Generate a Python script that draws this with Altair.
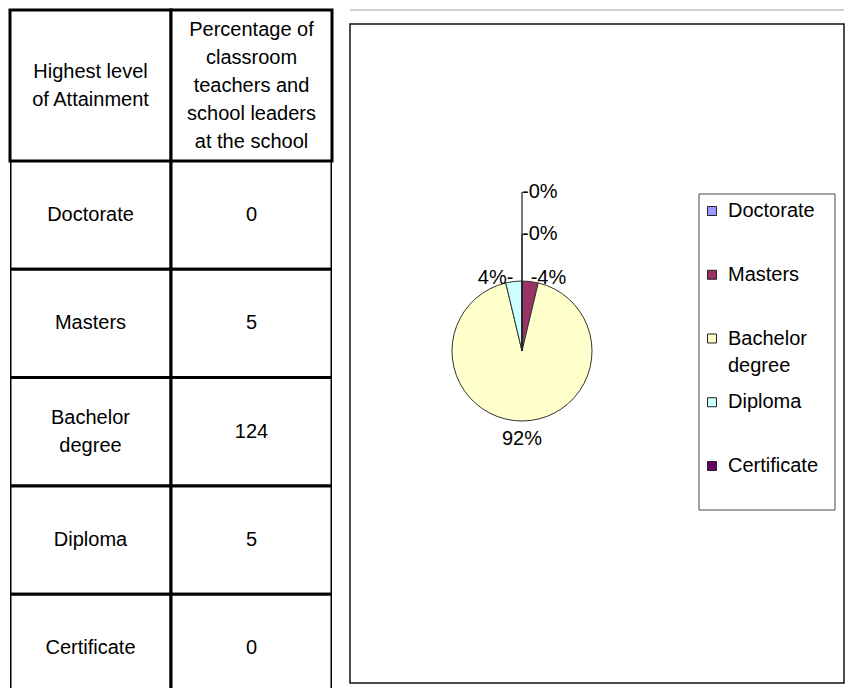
import math
import altair as alt
import pandas as pd

# ---------------- data ----------------
categories = ["Doctorate", "Masters", "Bachelor degree", "Diploma", "Certificate"]
counts = [0, 5, 124, 5, 0]
pct_labels = ["0%", "4%", "92%", "4%", "0%"]
header_texts = [
    "Highest level\nof Attainment",
    "Percentage of\nclassroom\nteachers and\nschool leaders\nat the school",
]
slice_colors = ["#9999FF", "#993366", "#FFFFCC", "#CCFFFF", "#660066"]

# ---------------- layout / style ----------------
FONT = "Liberation Sans"
FS = 20
LH = 28
TABLE_W = 322
HEADER_H = 151
ROW_H = 108.3
BODY_VIEW_H = 527
PANEL_W = 494
PANEL_H = 659
PANEL_TOP_GAP = 14
PIE_CX, PIE_CY, PIE_R = 172, 327, 70
label_radius = {"Doctorate": 159, "Masters": 74, "Bachelor degree": 88,
                "Diploma": 74, "Certificate": 117}
LEG_BOX = (349, 485, 170, 486)
LEG_Y_RANGE = [187, 442]
LEG_SW_X, LEG_TX_X = 362, 378

# ---------------- table ----------------
header_df = pd.DataFrame({"col": [0, 1], "row": ["h", "h"], "text": header_texts})
header_df["nl"] = header_df["text"].str.count("\n") + 1
body_rows = []
for c, n in zip(categories, counts):
    body_rows.append({"cat": c, "col": 0, "text": c.replace(" ", "\n")})
    body_rows.append({"cat": c, "col": 1, "text": str(n)})
body_df = pd.DataFrame(body_rows)
body_df["nl"] = body_df["text"].str.count("\n") + 1

xcol = alt.X("col:N", axis=None,
             scale=alt.Scale(domain=[0, 1], paddingInner=0, paddingOuter=0))


def text_layers(df, yenc):
    """Centred multi-line texts: one layer per line count (dy centres the block)."""
    layers = []
    for n in sorted(df["nl"].unique()):
        layers.append(
            alt.Chart(df).transform_filter(f"datum.nl == {int(n)}")
            .mark_text(font=FONT, fontSize=FS, color="black", lineBreak="\n",
                       lineHeight=LH, baseline="middle", dy=-(int(n) - 1) * LH / 2)
            .encode(x=xcol, y=yenc, text="text:N")
        )
    return layers


hy = alt.Y("row:N", axis=None, scale=alt.Scale(paddingInner=0, paddingOuter=0))
header = alt.layer(
    alt.Chart(header_df).mark_rect(fill="white", stroke="black", strokeWidth=3)
    .encode(x=xcol, y=hy),
    *text_layers(header_df, hy),
).properties(width=TABLE_W, height=HEADER_H)

by = alt.Y("cat:N", axis=None, sort=categories,
           scale=alt.Scale(domain=categories, range=[0, 5 * ROW_H],
                           paddingInner=0, paddingOuter=0))
body = alt.layer(
    alt.Chart(body_df).mark_rect(fill="white", stroke="black", strokeWidth=3, clip=True)
    .encode(x=xcol, y=by),
    *text_layers(body_df, by),
).properties(width=TABLE_W, height=BODY_VIEW_H)

table = alt.vconcat(header, body, spacing=0, bounds="flush")

# ---------------- pie panel ----------------
pie_df = pd.DataFrame({
    "cat": categories,
    "value": counts,
    "pct": pct_labels,
    "idx": list(range(len(categories))),
    "lr": [label_radius[c] for c in categories],
})

base = (
    alt.Chart(pie_df)
    .transform_joinaggregate(total="sum(value)")
    .transform_window(cum="sum(value)", sort=[alt.SortField("idx")], frame=[None, 0])
    .transform_calculate(
        f1="datum.cum / datum.total",
        f0="(datum.cum - datum.value) / datum.total",
        fmid="(datum.cum - datum.value / 2) / datum.total",
    )
)
theta_scale = alt.Scale(domain=[0, 1], range=[0, 2 * math.pi])
color_enc = alt.Color("cat:N", scale=alt.Scale(domain=categories, range=slice_colors),
                      legend=None)

arcs = base.mark_arc(x=PIE_CX, y=PIE_CY, radius=PIE_R, stroke="#333",
                     strokeWidth=1).encode(
    theta=alt.Theta("f0:Q", scale=theta_scale, stack=False),
    theta2="f1:Q",
    color=color_enc,
)

leaders = base.transform_filter("datum.value == 0").mark_arc(
    x=PIE_CX, y=PIE_CY, stroke="#222", strokeWidth=1.2, fillOpacity=0
).encode(
    theta=alt.Theta("f0:Q", scale=theta_scale, stack=False),
    theta2="f1:Q",
    radius=alt.Radius("lr:Q", scale=None),
)

lbl_style = dict(x=PIE_CX, y=PIE_CY, font=FONT, fontSize=FS, color="black",
                 baseline="middle")
side = "sin(2 * PI * datum.fmid)"
lbl_enc = dict(
    theta=alt.Theta("fmid:Q", scale=theta_scale, stack=False),
    radius=alt.Radius("lr:Q", scale=None),
    text="lab:N",
)
lbl_left = base.transform_filter(f"datum.value == 0 || {side} > 0.05") \
    .transform_calculate(lab="'-' + datum.pct") \
    .mark_text(align="left", **lbl_style).encode(**lbl_enc)
lbl_right = base.transform_filter(f"datum.value > 0 && {side} < -0.05") \
    .transform_calculate(lab="datum.pct + '-'") \
    .mark_text(align="right", **lbl_style).encode(**lbl_enc)
lbl_mid = base.transform_filter(f"datum.value > 0 && abs({side}) <= 0.05") \
    .transform_calculate(lab="datum.pct") \
    .mark_text(align="center", **lbl_style).encode(**lbl_enc)

# manual legend
one = pd.DataFrame({"a": [0]})
leg_box = alt.Chart(one).mark_rect(fill="white", stroke="#444", strokeWidth=1).encode(
    x=alt.value(LEG_BOX[0]), x2=alt.value(LEG_BOX[1]),
    y=alt.value(LEG_BOX[2]), y2=alt.value(LEG_BOX[3]),
)
leg_y = alt.Y("cat:N", axis=None,
              scale=alt.Scale(domain=categories, range=LEG_Y_RANGE, padding=0))
leg_sw = alt.Chart(pie_df).mark_square(
    x=LEG_SW_X, size=81, stroke="#222", strokeWidth=1, filled=True, opacity=1
).encode(y=leg_y, color=color_enc)
leg_tx = alt.Chart(pie_df).transform_calculate(
    lab="replace(datum.cat, ' ', '\\n')"
).mark_text(
    x=LEG_TX_X, align="left", baseline="middle", lineBreak="\n", lineHeight=27,
    font=FONT, fontSize=FS, color="black"
).encode(y=leg_y, text="lab:N")

panel = alt.layer(
    arcs, leaders, lbl_left, lbl_right, lbl_mid, leg_box, leg_sw, leg_tx
).properties(
    width=PANEL_W, height=PANEL_H,
    view=alt.ViewBackground(stroke="#111", strokeWidth=1.5),
)

spacer = alt.Chart(one).mark_rule(color="#cfcfcf", strokeWidth=2).encode(
    x=alt.value(0), x2=alt.value(PANEL_W), y=alt.value(0)
).properties(width=PANEL_W, height=PANEL_TOP_GAP)

right = alt.vconcat(spacer, panel, spacing=0, bounds="flush")

chart = alt.hconcat(table, right, spacing=15).properties(
    padding={"left": 0, "top": 0, "right": 0, "bottom": 0}
).configure_view(stroke=None)

chart.save("out.html", embed_options={"renderer": "svg", "actions": False})
